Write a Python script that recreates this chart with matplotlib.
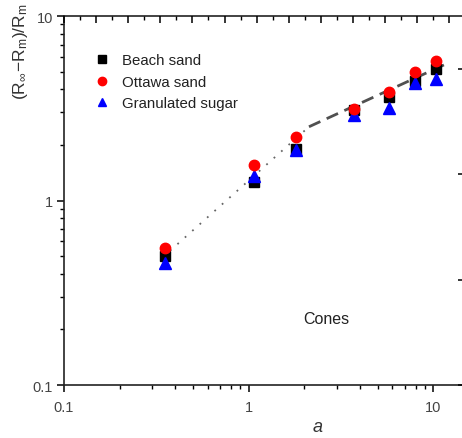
import matplotlib
matplotlib.use("Agg")
import matplotlib.pyplot as plt
from matplotlib.ticker import LogLocator, NullFormatter, MultipleLocator

plt.rcParams['font.family'] = ['Liberation Sans', 'DejaVu Sans']
plt.rcParams['mathtext.fontset'] = 'custom'
plt.rcParams['mathtext.rm'] = 'Liberation Sans'
plt.rcParams['mathtext.it'] = 'Liberation Sans:italic'

# ---- data ----
a_vals = [0.352, 1.07, 1.80, 3.72, 5.75, 7.95, 10.3]
beach_sand = [0.50, 1.26, 1.91, 3.10, 3.63, 4.47, 5.17]
ottawa_sand = [0.554, 1.56, 2.20, 3.14, 3.86, 4.99, 5.73]
granulated_sugar = [0.46, 1.36, 1.87, 2.89, 3.16, 4.34, 4.56]

dotted_x = [0.375, 2.12]
dotted_y = [0.534, 2.51]
dashed_x = [2.12, 11.4]
dashed_y = [2.51, 5.43]

series_labels = ['Beach sand', 'Ottawa sand', 'Granulated sugar']
x_ticks = [0.1, 1, 10]
x_tick_labels = ['0.1', '1', '10']
y_ticks = [0.1, 1, 10]
y_tick_labels = ['0.1', '1', '10']

W, H = 462, 439
fig = plt.figure(figsize=(W / 100, H / 100), dpi=100)
L, R, T, B = 64, 464, 17, 386
ax = fig.add_axes([L / W, 1 - B / H, (R - L) / W, (B - T) / H])

ax.set_xscale('log')
ax.set_yscale('log')
ax.set_xlim(0.1, 10 ** (-1 + (R - L) / 184.7))
ax.set_ylim(0.1, 10)

ax.plot(dotted_x, dotted_y, linestyle=(0, (1, 4.5)), color='#666666', lw=1.3, zorder=2)
ax.plot(dashed_x, dashed_y, linestyle=(0, (4.5, 2.5)), color='#505050', lw=2.0, zorder=2)

h1, = ax.plot(a_vals, beach_sand, 's', color='black', ms=6.5, ls='none', zorder=3, label=series_labels[0])
h3, = ax.plot(a_vals, granulated_sugar, '^', color='#0000ff', ms=8, ls='none', zorder=4, label=series_labels[2])
h2, = ax.plot(a_vals, ottawa_sand, 'o', color='#ff0000', ms=7.5, ls='none', zorder=5, label=series_labels[1])

leg = ax.legend(handles=[h1, h2, h3], loc='upper left', bbox_to_anchor=(0.06, 0.915),
                frameon=False, fontsize=10.8, handletextpad=0.85, labelspacing=0.5,
                borderaxespad=0, handlelength=1.0, markerscale=0.8)
for t in leg.get_texts():
    t.set_color('#222222')

ax.set_xticks(x_ticks)
ax.set_xticklabels(x_tick_labels)
ax.set_yticks(y_ticks)
ax.set_yticklabels(y_tick_labels)
ax.xaxis.set_minor_locator(LogLocator(base=10, subs=range(2, 10)))
ax.yaxis.set_minor_locator(LogLocator(base=10, subs=range(2, 10)))
ax.xaxis.set_minor_formatter(NullFormatter())
ax.yaxis.set_minor_formatter(NullFormatter())
ax.tick_params(which='major', direction='out', length=5, width=1.1, labelsize=10.5,
               labelcolor='#444444', top=False, right=False, pad=3)
ax.tick_params(axis='x', which='major', pad=6)
ax.tick_params(which='minor', direction='out', length=2.8, width=1.0, top=False, right=False)

for s in ['left', 'bottom', 'top']:
    ax.spines[s].set_linewidth(1.2)
    ax.spines[s].set_color('#222222')
ax.spines['right'].set_visible(False)

# top linear axis (ticks only)
axt = ax.twiny()
axt.set_xlim(0, (R - L) / 32.1)
axt.xaxis.set_major_locator(MultipleLocator(1))
axt.xaxis.set_minor_locator(MultipleLocator(0.5))
axt.xaxis.set_major_formatter(NullFormatter())
axt.tick_params(axis='x', which='major', direction='in', length=5, width=1.1, top=True, bottom=False)
axt.tick_params(axis='x', which='minor', direction='in', length=3, width=1.0, top=True, bottom=False)
# right linear axis (ticks only)
axr = ax.twinx()
axr.set_ylim(0, (B - T) / 105.5)
axr.yaxis.set_major_locator(MultipleLocator(1))
axr.yaxis.set_major_formatter(NullFormatter())
axr.tick_params(axis='y', which='major', direction='in', length=4, width=1.1, right=True, left=False)
for a2 in (axt, axr):
    for s in a2.spines.values():
        s.set_visible(False)

ax.set_xlabel('a', fontsize=13, style='italic', color='#333333')
ax.xaxis.set_label_coords(0.635, -0.09)
ax.set_ylabel(r'$\mathregular{(R_{\infty}\!-\!R_m)/R_m}$', fontsize=12.5, color='#333333')
ax.yaxis.set_label_coords(-0.085, 0.905)

ax.text(0.657, 0.18, 'Cones', transform=ax.transAxes, fontsize=11.5, color='#222222',
        ha='center', va='center')

fig.savefig('out.png', dpi=100)
